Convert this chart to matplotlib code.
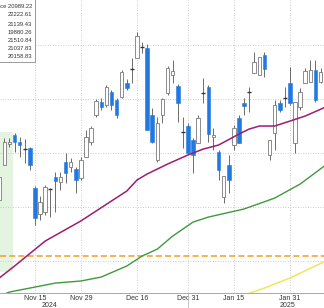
import matplotlib
matplotlib.use("Agg")
import matplotlib.pyplot as plt
import matplotlib.transforms as mtransforms
from matplotlib import font_manager
from matplotlib.patches import Rectangle

# Daily candles, index 0 = Nov 15 2024 (trading days)
day = list(range(-7, 58))
opens = [20565, 20889, 21083, 21167, 21102, 21037, 21046, 20676, 20435, 20454,
         20667, 20778, 20732, 20917, 20870, 20852, 20769, 20963, 21102, 21352,
         21472, 21445, 21565, 21491, 21519, 21648, 21778, 21880, 21982, 21972,
         21352, 20935, 21352, 21556, 21722, 21620, 21194, 21250, 21120, 21093,
         21556, 21611, 21148, 21009, 20593, 20889, 21074, 21324, 21463, 21565,
         21741, 21722, 21907, 20982, 21185, 21463, 21509, 21648, 21093, 21426,
         21648, 21657, 21769, 21657, 21630]
highs = [20824, 21139, 21139, 21185, 21148, 21130, 21056, 20694, 20602, 20704,
         20676, 20824, 20824, 21000, 20954, 20870, 20963, 21213, 21250, 21500,
         21509, 21630, 21583, 21509, 21769, 21685, 21880, 22120, 22028, 22009,
         21417, 21333, 21509, 21806, 21861, 21639, 21333, 21278, 21139, 21352,
         21694, 21630, 21232, 21028, 20787, 20981, 21259, 21352, 21509, 21611,
         21935, 21889, 21935, 21120, 21491, 21491, 21611, 21796, 21472, 21602,
         21787, 21861, 21861, 21787, 21694]
lows = [20537, 20889, 21056, 21009, 20963, 20907, 20843, 20333, 20380, 20426,
        20408, 20454, 20657, 20722, 20824, 20630, 20750, 20963, 21074, 21333,
        21398, 21426, 21398, 21324, 21509, 21583, 21648, 21880, 21926, 21213,
        21093, 20917, 21278, 21537, 21648, 21287, 21046, 21000, 20815, 21093,
        21463, 21102, 21028, 20750, 20537, 20630, 21028, 21093, 21352, 21380,
        21741, 21722, 21704, 20935, 21028, 21380, 21426, 21445, 21000, 21398,
        21648, 21657, 21472, 21648, 21602]
closes = [20778, 21102, 21102, 21102, 21074, 21037, 20889, 20398, 20546, 20685,
          20667, 20741, 20778, 20815, 20917, 20750, 20935, 21148, 21232, 21482,
          21426, 21611, 21445, 21352, 21750, 21602, 21778, 22083, 21982, 21213,
          21102, 21278, 21500, 21787, 21759, 21463, 21194, 21000, 20982, 21324,
          21556, 21176, 21167, 20843, 20787, 20750, 21232, 21093, 21435, 21565,
          21843, 21889, 21778, 21120, 21445, 21398, 21509, 21463, 21472, 21565,
          21759, 21769, 21491, 21750, 21676]

# moving averages
ma50_day = [-7, -4, 2, 9, 15, 18, 20, 22, 26, 30, 33, 36, 40, 42, 44, 47, 50, 53, 57]
ma50 = [19843, 19954, 20185, 20371, 20556, 20648, 20750, 20806, 20898, 20982,
        21037, 21074, 21176, 21222, 21250, 21250, 21296, 21343, 21426]
ma100_day = [-6, -5, 0, 4, 9, 13, 18, 21, 24, 27, 31, 34, 41, 47, 52, 57]
ma100 = [19694, 19713, 19759, 19796, 19815, 19852, 19954, 20046, 20111, 20231,
         20361, 20407, 20482, 20583, 20713, 20889]
ma200_day = [41, 45, 50, 57]
ma200 = [19685, 19750, 19843, 20000]
level = 20045

tick_days = [0, 9, 20, 30, 39, 50]
tick_labels = ["Nov 15", "Nov 29", "Dec 16", "Dec 31", "Jan 15", "Jan 31"]
year_days = [2.8, 49.5]
year_labels = ["2024", "2025"]

legend_vals = ["Last Price 20989.22", "22222.61", "21139.43", "19880.26",
               "21510.84", "21037.83", "20158.83"]

names = {f.name for f in font_manager.fontManager.ttflist}
narrow = "Liberation Sans Narrow" if "Liberation Sans Narrow" in names else "Liberation Sans"

blue = "#2178e0"
edge = "#7a7a7a"

fig = plt.figure(figsize=(3.24, 3.08), dpi=100)
ax = fig.add_axes([0, 15 / 308, 1, 293 / 308])

ax.fill_between([-7.5, -4.4], 19900, 21195, color="#e4f4e0", lw=0, zorder=0)
ax.axhline(level, color="#f0a020", lw=1.1, ls=(0, (4, 2)), zorder=1)

for d, o, h, l, c in zip(day, opens, highs, lows, closes):
    ax.vlines(d, l, h, color="#555555", lw=0.6, zorder=2)
    if o == c:
        ax.hlines(o, d - 0.38, d + 0.38, color="#333333", lw=1.0, zorder=3)
    elif c > o:
        ax.bar(d, c - o, bottom=o, width=0.7, facecolor="white",
               edgecolor=edge, lw=0.6, zorder=3)
    else:
        ax.bar(d, o - c, bottom=c, width=0.7, facecolor=blue,
               edgecolor=blue, lw=0.4, zorder=3)

ax.plot(ma50_day, ma50, color="#9c1d72", lw=1.1, zorder=4)
ax.plot(ma100_day, ma100, color="#3e9a3c", lw=1.0, zorder=4)
ax.plot(ma200_day, ma200, color="#f2e45a", lw=1.1, zorder=4)

ax.set_xlim(-6.86, 56.67)
ax.set_ylim(19704, 22417)
ax.set_yticks([20000, 20500, 21000, 21500, 22000])
ax.set_xticks(tick_days)
ax.set_xticklabels(tick_labels, fontsize=5, family=narrow, color="#333333")
ax.tick_params(axis="x", length=0, pad=1.5)
ax.tick_params(axis="y", left=False, labelleft=False)
ax.grid(True, ls=(0, (1, 2)), color="#bdbdbd", lw=0.6)
ax.set_axisbelow(True)
for s in ["left", "right", "top"]:
    ax.spines[s].set_visible(False)
ax.spines["bottom"].set_color("#9a9a9a")
ax.spines["bottom"].set_linewidth(0.6)

trans = mtransforms.blended_transform_factory(ax.transData, ax.transAxes)
for d, t in zip(year_days, year_labels):
    ax.text(d, -0.041, t, transform=trans, fontsize=5, family=narrow,
            color="#333333", ha="center", va="center")
ax.plot([30, 30], [0, -0.06], transform=trans, color="#bdbdbd", lw=0.6, clip_on=False)

# legend box, cut off at the left edge
fig.patches.append(Rectangle((-0.02, 1 - 62 / 308), 41 / 324, 0.25,
                             transform=fig.transFigure, facecolor="white",
                             edgecolor="#8a8a8a", lw=0.6, zorder=10))
for k, s in enumerate(legend_vals):
    y = [7, 15, 24, 33, 41, 49, 57][k]
    fig.text(32 / 324, 1 - y / 308, s, fontsize=4.2, family=narrow,
             color="#333333", ha="right", va="center", zorder=11)

fig.savefig("out.png", dpi=100)
